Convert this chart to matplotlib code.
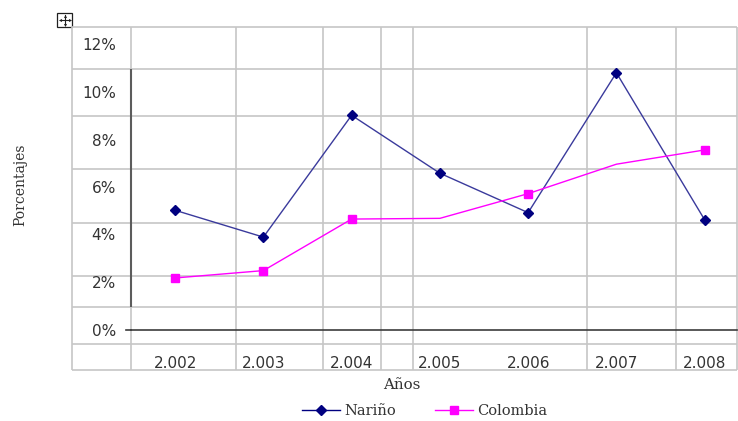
import matplotlib
matplotlib.use("Agg")
import matplotlib.pyplot as plt
from matplotlib.lines import Line2D
from matplotlib.patches import Rectangle

# ---- data -------------------------------------------------------------
years = [2002, 2003, 2004, 2005, 2006, 2007, 2008]
year_labels = ["2.002", "2.003", "2.004", "2.005", "2.006", "2.007", "2.008"]
narino = [5.02, 3.89, 9.02, 6.58, 4.92, 10.81, 4.62]
colombia = [2.17, 2.48, 4.65, 4.68, 5.72, 6.96, 7.56]
colombia_marked = [0, 1, 2, 4, 6]
y_ticks = [0, 2, 4, 6, 8, 10, 12]
y_tick_labels = ["0%", "2%", "4%", "6%", "8%", "10%", "12%"]

W, H = 738, 421
fig = plt.figure(figsize=(W / 100, H / 100), dpi=100)
fig.patch.set_facecolor("white")

# ---- background table layer (pixel coordinates) ------------------------
frame = fig.add_axes([0, 0, 1, 1], zorder=0)
frame.set_xlim(0, W)
frame.set_ylim(H, 0)
frame.axis("off")

grid_c = "#c6c6c6"
grid_lw = 1.2
rows = [27, 68.7, 116, 169.3, 223, 275.5, 306.5, 343.5, 370]
cols = [72, 131, 236, 323, 381, 413, 587, 676, 737]
for yv in rows:
    frame.plot([cols[0], cols[-1]], [yv, yv], color=grid_c, lw=grid_lw,
               solid_capstyle="butt")
for xv in cols:
    frame.plot([xv, xv], [rows[0], rows[-1]], color=grid_c, lw=grid_lw,
               solid_capstyle="butt")

# darker vertical value-axis line
frame.plot([131, 131], [68.7, 306.5], color="#5c5c5c", lw=1.5,
           solid_capstyle="butt")

# table move handle
frame.add_patch(Rectangle((57, 13), 15, 14, facecolor="white",
                          edgecolor="#202020", lw=0.9))
frame.plot([59.5, 69.5], [20, 20], color="#202020", lw=0.8)
frame.plot([64.5, 64.5], [15, 25], color="#202020", lw=0.8)
for (mx, my, mk) in [(59.5, 20, "<"), (69.5, 20, ">"),
                     (64.5, 15.5, "^"), (64.5, 24.5, "v")]:
    frame.plot(mx, my, marker=mk, ms=2.2, color="#202020", mew=0)

# ---- data layer -------------------------------------------------------
px_per_unit_y = 23.75
zero_px = 329.5
left_px, right_px, top_px = 131, 737, 27
step_x = 88.25
ax = fig.add_axes([left_px / W, (H - zero_px) / H,
                   (right_px - left_px) / W, (zero_px - top_px) / H],
                  zorder=2)
ax.patch.set_alpha(0)
ax.set_xlim(years[0] - 0.5, years[0] - 0.5 + (right_px - left_px) / step_x)
ax.set_ylim(0, (zero_px - top_px) / px_per_unit_y)
for s in ax.spines.values():
    s.set_visible(False)

ax.axhline(0, xmin=0, xmax=1, color="#3c3c3c", lw=1.2, clip_on=False)
frame.plot([126, 131], [zero_px, zero_px], color="#3c3c3c", lw=1.2)

ax.set_yticks(y_ticks)
ax.set_yticklabels(y_tick_labels)
ax.set_xticks(years)
ax.set_xticklabels(year_labels)
ax.tick_params(axis="y", length=0, pad=10.8, labelsize=11,
               labelcolor="#333333")
ax.tick_params(axis="x", length=0, pad=19.3, labelsize=11,
               labelcolor="#333333")
for t in ax.get_xticklabels() + ax.get_yticklabels():
    t.set_fontfamily("DejaVu Sans")

ax.plot(years, narino, color="#3a3a9c", lw=1.0, marker="D", ms=4.6,
        mfc="#000080", mec="#000080", label="Nariño", zorder=3)
ax.plot(years, colombia, color="#ff00ff", lw=1.0, marker="s", ms=6.3,
        mfc="#ff00ff", mec="#ff00ff", markevery=colombia_marked,
        label="Colombia", zorder=3)

# ---- titles -----------------------------------------------------------
serif = "DejaVu Serif"
fig.text(20 / W, 1 - 185 / H, "Porcentajes", rotation=90, ha="center",
         va="center", family=serif, fontsize=10, color="#333333")
fig.text(401.7 / W, 1 - 385 / H, "Años", ha="center", va="center",
         family=serif, fontsize=10.8, color="#333333")

# ---- legend -----------------------------------------------------------
handles = [
    Line2D([], [], color="#000080", lw=1.0, marker="D", ms=4.6,
           mfc="#000080", mec="#000080"),
    Line2D([], [], color="#ff00ff", lw=1.0, marker="s", ms=6.3,
           mfc="#ff00ff", mec="#ff00ff"),
]
leg = fig.legend(handles, ["Nariño", "Colombia"], loc="center",
                 bbox_to_anchor=(424.5 / W, 1 - 411 / H), ncol=2,
                 frameon=False, handlelength=2.6, handletextpad=0.3,
                 columnspacing=2.7, borderpad=0,
                 prop={"family": serif, "size": 10.5})
for t in leg.get_texts():
    t.set_color("#333333")

fig.savefig("out.png", dpi=100, facecolor="white")
